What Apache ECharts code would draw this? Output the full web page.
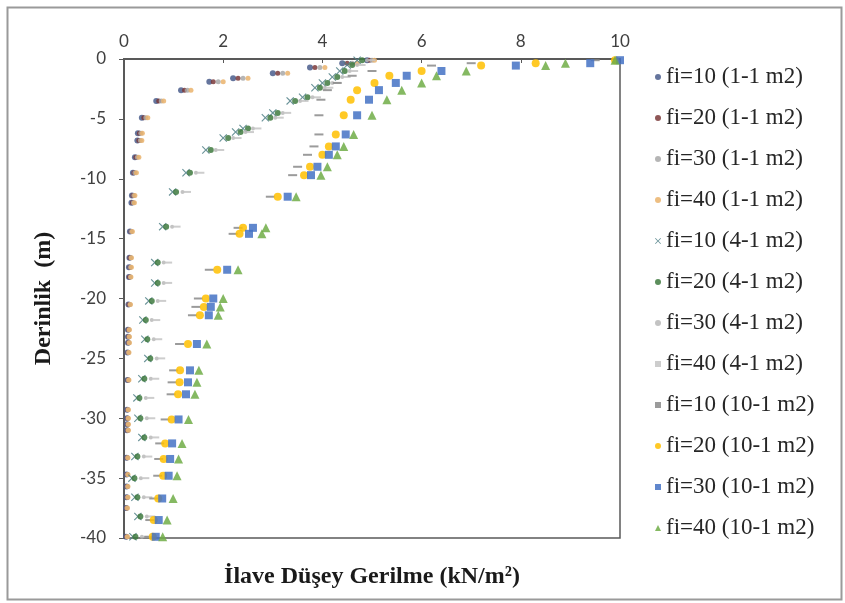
<!DOCTYPE html>
<html>
<head>
<meta charset="utf-8">
<script src="https://cdn.jsdelivr.net/npm/echarts@6/dist/echarts.min.js"></script>
<style>
  html, body { margin: 0; padding: 0; background: #fff; }
  #chart { width: 845px; height: 603px; }
</style>
</head>
<body>
<div id="chart"></div>
<script>
// depths (m), one list per footing size
var depth11 = [-0.1, -0.35, -0.7, -1.2, -1.6, -1.9, -2.6, -3.5, -4.9, -6.2, -6.8, -8.2, -9.5, -11.4, -12.0, -14.4, -16.6, -17.4, -18.2, -20.5, -22.6, -23.2, -23.7, -24.5, -26.8, -29.3, -30.0, -30.5, -31.0, -33.3, -34.7, -35.7, -36.6, -37.5, -39.9];
var depth41 = [-0.1, -0.5, -1.0, -1.5, -2.0, -2.4, -3.2, -3.5, -4.5, -4.9, -5.8, -6.1, -6.6, -7.6, -9.5, -11.1, -14.0, -17.0, -18.7, -20.2, -21.8, -23.4, -25.0, -26.7, -28.3, -30.0, -31.6, -33.2, -35.0, -36.6, -38.2, -39.9];
var depth101 = [-0.1, -0.35, -0.55, -1.0, -1.4, -2.0, -2.6, -3.4, -4.7, -6.3, -7.3, -8.0, -9.0, -9.7, -11.5, -14.1, -14.6, -17.6, -20.0, -20.7, -21.4, -23.8, -26.0, -27.0, -28.0, -30.1, -32.1, -33.4, -34.8, -36.7, -38.5, -39.9];

// added vertical stress (kN/m2)
var fi10_11 = [4.9, 4.4, 3.75, 3.0, 2.2, 1.72, 1.15, 0.65, 0.36, 0.28, 0.27, 0.22, 0.18, 0.16, 0.15, 0.12, 0.11, 0.1, 0.1, 0.09, 0.08, 0.08, 0.08, 0.07, 0.07, 0.06, 0.06, 0.06, 0.06, 0.05, 0.05, 0.05, 0.05, 0.04, 0.04];
var fi20_11 = [4.95, 4.5, 3.85, 3.1, 2.3, 1.8, 1.22, 0.7, 0.4, 0.31, 0.3, 0.24, 0.2, 0.18, 0.17, 0.14, 0.12, 0.12, 0.11, 0.1, 0.09, 0.09, 0.09, 0.08, 0.08, 0.07, 0.07, 0.07, 0.07, 0.06, 0.06, 0.06, 0.06, 0.05, 0.05];
var fi30_11 = [5.0, 4.6, 3.95, 3.2, 2.4, 1.9, 1.28, 0.75, 0.44, 0.34, 0.33, 0.27, 0.22, 0.2, 0.19, 0.15, 0.14, 0.13, 0.13, 0.12, 0.1, 0.1, 0.1, 0.09, 0.09, 0.08, 0.08, 0.08, 0.08, 0.07, 0.07, 0.07, 0.07, 0.06, 0.06];
var fi40_11 = [5.05, 4.7, 4.05, 3.3, 2.5, 2.0, 1.35, 0.8, 0.48, 0.37, 0.36, 0.3, 0.25, 0.22, 0.21, 0.17, 0.15, 0.15, 0.14, 0.13, 0.11, 0.11, 0.11, 0.1, 0.1, 0.09, 0.09, 0.09, 0.09, 0.08, 0.08, 0.08, 0.08, 0.07, 0.07];

var fi10_41 = [4.7, 4.5, 4.35, 4.2, 4.0, 3.85, 3.6, 3.35, 3.0, 2.85, 2.4, 2.25, 2.0, 1.65, 1.25, 0.98, 0.78, 0.62, 0.62, 0.5, 0.38, 0.42, 0.48, 0.36, 0.26, 0.28, 0.36, 0.22, 0.16, 0.22, 0.28, 0.18];
var fi20_41 = [4.8, 4.6, 4.45, 4.3, 4.1, 3.95, 3.7, 3.45, 3.1, 2.95, 2.5, 2.35, 2.1, 1.75, 1.33, 1.05, 0.85, 0.68, 0.68, 0.56, 0.44, 0.47, 0.53, 0.41, 0.31, 0.33, 0.41, 0.27, 0.21, 0.27, 0.33, 0.23];
var fi30_41 = [4.9, 4.7, 4.55, 4.4, 4.2, 4.05, 3.8, 3.55, 3.2, 3.05, 2.6, 2.45, 2.2, 1.85, 1.45, 1.18, 0.97, 0.8, 0.8, 0.68, 0.56, 0.6, 0.66, 0.54, 0.44, 0.46, 0.54, 0.4, 0.34, 0.4, 0.46, 0.36];
var fi40_41 = [5.0, 4.8, 4.65, 4.5, 4.3, 4.15, 3.9, 3.65, 3.3, 3.15, 2.7, 2.55, 2.3, 1.95, 1.55, 1.28, 1.07, 0.9, 0.9, 0.78, 0.66, 0.7, 0.76, 0.64, 0.54, 0.56, 0.64, 0.5, 0.44, 0.5, 0.56, 0.46];

var fi10_101 = [9.5, 7.0, 6.2, 5.0, 4.6, 4.3, 4.1, 3.97, 3.93, 3.93, 3.83, 3.7, 3.5, 3.4, 2.95, 2.3, 2.2, 1.72, 1.5, 1.45, 1.38, 1.12, 1.0, 0.97, 0.95, 0.83, 0.72, 0.7, 0.68, 0.6, 0.52, 0.5];
var fi20_101 = [9.9, 8.3, 7.2, 6.0, 5.35, 5.05, 4.7, 4.57, 4.43, 4.27, 4.13, 4.0, 3.75, 3.63, 3.1, 2.4, 2.33, 1.88, 1.65, 1.61, 1.53, 1.29, 1.13, 1.12, 1.09, 0.96, 0.83, 0.8, 0.79, 0.69, 0.6, 0.58];
var fi30_101 = [10.0, 9.4, 7.9, 6.4, 5.7, 5.48, 5.14, 4.94, 4.7, 4.47, 4.27, 4.13, 3.9, 3.77, 3.3, 2.6, 2.52, 2.08, 1.8, 1.75, 1.71, 1.47, 1.33, 1.29, 1.25, 1.1, 0.97, 0.93, 0.9, 0.77, 0.7, 0.64];
var fi40_101 = [9.9, 8.9, 8.5, 6.9, 6.3, 6.0, 5.6, 5.3, 5.0, 4.63, 4.43, 4.3, 4.1, 3.97, 3.47, 2.86, 2.78, 2.3, 2.0, 1.94, 1.9, 1.67, 1.51, 1.47, 1.43, 1.3, 1.17, 1.1, 1.07, 0.99, 0.87, 0.78];

var xTicks = [0, 2, 4, 6, 8, 10];
var yTicks = [0, -5, -10, -15, -20, -25, -30, -35, -40];

var crossPath = 'path://M0,1L1,0L5,4L9,0L10,1L6,5L10,9L9,10L5,6L1,10L0,9L4,5Z';

function pairs(xs, ds) {
  var out = [];
  for (var i = 0; i < xs.length; i++) out.push([xs[i], ds[i]]);
  return out;
}

function mk(name, xs, ds, color, symbol, size) {
  return {
    name: name,
    type: 'scatter',
    data: pairs(xs, ds),
    symbol: symbol,
    symbolSize: size,
    itemStyle: { color: color, opacity: 0.85 },
    emphasis: { disabled: true }
  };
}

var series = [
  mk('fi=10 (1-1 m2)', fi10_11, depth11, '#4a5d8c', 'circle', 6),
  mk('fi=20 (1-1 m2)', fi20_11, depth11, '#7b3a3a', 'circle', 5),
  mk('fi=30 (1-1 m2)', fi30_11, depth11, '#a8a8a8', 'circle', 5),
  mk('fi=40 (1-1 m2)', fi40_11, depth11, '#eab36c', 'circle', 5),
  mk('fi=10 (4-1 m2)', fi10_41, depth41, '#4f7f86', crossPath, 8),
  mk('fi=20 (4-1 m2)', fi20_41, depth41, '#3f7a3f', 'circle', 6),
  mk('fi=30 (4-1 m2)', fi30_41, depth41, '#b8b8b8', 'circle', 4),
  mk('fi=40 (4-1 m2)', fi40_41, depth41, '#c4c4c4', 'rect', [7, 2]),
  mk('fi=10 (10-1 m2)', fi10_101, depth101, '#8a8a8a', 'rect', [9, 2]),
  mk('fi=20 (10-1 m2)', fi20_101, depth101, '#ffc000', 'circle', 8),
  mk('fi=30 (10-1 m2)', fi30_101, depth101, '#4472c4', 'rect', 8),
  mk('fi=40 (10-1 m2)', fi40_101, depth101, '#70ad47', 'triangle', 9)
];

var chart = echarts.init(document.getElementById('chart'));
chart.setOption({
  animation: false,
  backgroundColor: '#fff',
  grid: {
    left: 124, top: 59, right: 225, bottom: 65,
    show: true, borderColor: '#595959', borderWidth: 1.5, backgroundColor: 'transparent'
  },
  legend: {
    orient: 'vertical',
    left: 650,
    top: 60,
    itemWidth: 6,
    itemHeight: 6,
    itemGap: 17,
    textStyle: { fontFamily: 'Liberation Serif', fontSize: 23, color: '#262626', lineHeight: 24 }
  },
  xAxis: {
    type: 'value',
    position: 'top',
    min: xTicks[0], max: xTicks[xTicks.length - 1], interval: 2,
    axisLine: { show: true, lineStyle: { color: '#595959', width: 2 } },
    axisTick: { show: true, inside: true, length: 4, lineStyle: { color: '#595959' } },
    splitLine: { show: false },
    axisLabel: { fontFamily: 'Lato', fontSize: 17, color: '#404040', margin: 9 }
  },
  yAxis: {
    type: 'value',
    min: yTicks[yTicks.length - 1], max: yTicks[0], interval: 5,
    name: 'Derinlik  (m)',
    nameLocation: 'middle',
    nameRotate: 90,
    nameGap: 68,
    nameTextStyle: { fontFamily: 'Liberation Serif', fontWeight: 'bold', fontSize: 24, color: '#1a1a1a' },
    axisLine: { show: true, lineStyle: { color: '#595959', width: 2 } },
    axisTick: { show: true, length: 5, lineStyle: { color: '#595959' } },
    splitLine: { show: false },
    axisLabel: { fontFamily: 'Lato', fontSize: 17, color: '#404040', margin: 18 }
  },
  graphic: [
    {
      type: 'rect', left: 5, top: 5, silent: true,
      shape: { width: 834, height: 592 },
      style: { fill: 'none', stroke: '#9a9a9a', lineWidth: 2 }
    },
    {
      type: 'text', x: 372, y: 577, silent: true,
      style: {
        text: 'İlave Düşey Gerilme (kN/m²)',
        font: 'bold 24px "Liberation Serif"',
        fill: '#1a1a1a',
        align: 'center',
        verticalAlign: 'middle'
      }
    }
  ],
  series: series
});
</script>
</body>
</html>
